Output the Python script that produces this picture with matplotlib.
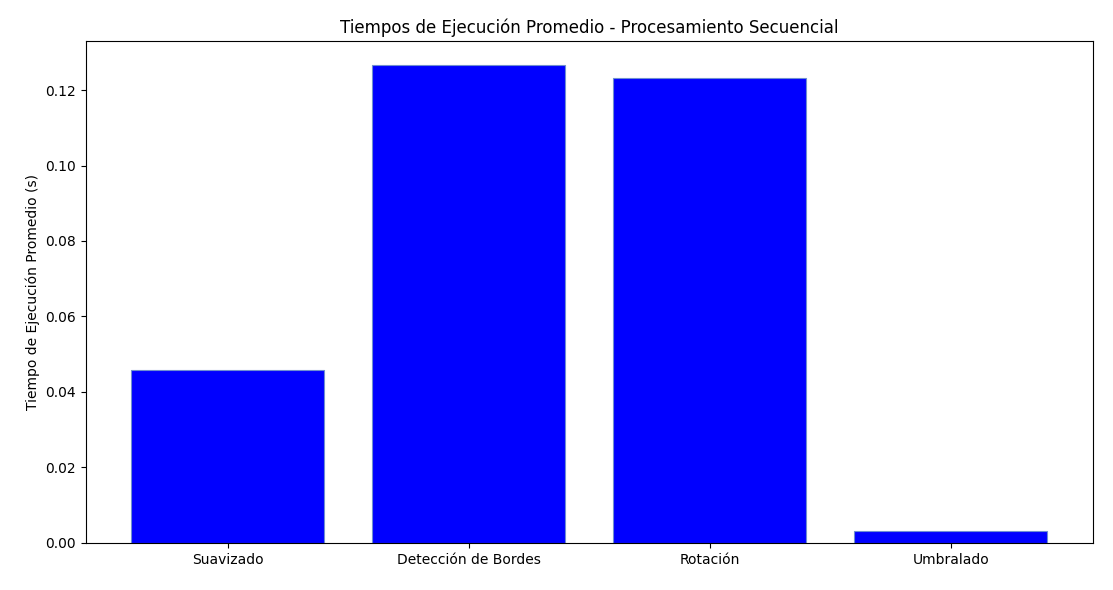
import matplotlib
matplotlib.use("Agg")
import matplotlib.pyplot as plt

categories = ["Suavizado", "Detección de Bordes", "Rotación", "Umbralado"]
times = [0.0458, 0.1266, 0.1232, 0.0032]

fig = plt.figure(figsize=(11.13, 5.9), dpi=100)
ax = fig.add_axes([0.077, 0.08, 0.905, 0.85])
ax.bar(categories, times, color="blue", edgecolor="#6f8fd0", linewidth=0.8)
ax.set_ylabel("Tiempo de Ejecución Promedio (s)")
ax.set_title("Tiempos de Ejecución Promedio - Procesamiento Secuencial")
fig.savefig("out.png", dpi=100)
